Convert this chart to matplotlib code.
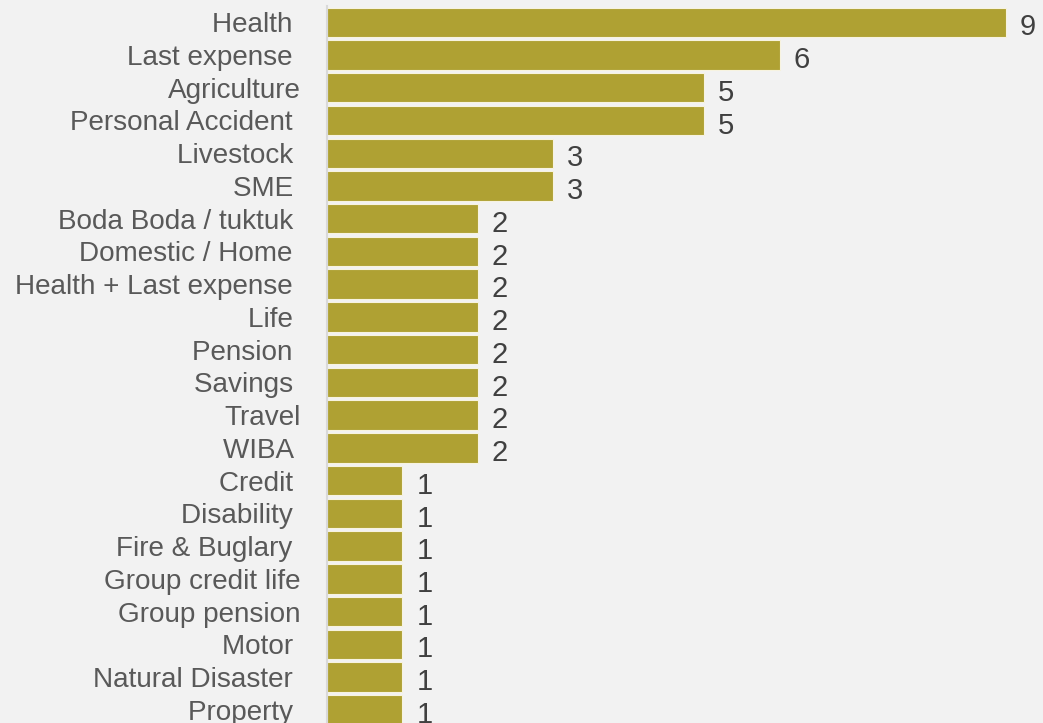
"""
Horizontal bar chart of product counts by insurance class.
"""

import matplotlib.pyplot as plt
import numpy as np

plt.rcParams['font.family'] = ['Liberation Sans', 'DejaVu Sans']

# Product classes (top to bottom) and number of products in each
products = [
    'Health ', 'Last expense ', 'Agriculture', 'Personal Accident ',
    'Livestock ', 'SME ', 'Boda Boda / tuktuk ', 'Domestic / Home ',
    'Health + Last expense ', 'Life ', 'Pension ', 'Savings ', 'Travel',
    'WIBA ', 'Credit ', 'Disability ', 'Fire & Buglary ', 'Group credit life',
    'Group pension', 'Motor ', 'Natural Disaster ', 'Property ',
]
counts = [9, 6, 5, 5, 3, 3, 2, 2, 2, 2, 2, 2, 2, 2, 1, 1, 1, 1, 1, 1, 1, 1]

bg = '#F2F2F2'
bar_color = '#AFA133'

fig = plt.figure(figsize=(10.43, 7.23), dpi=100, facecolor=bg)
ax = fig.add_axes([327 / 1043, 0, 1 - 327 / 1043, 1], facecolor=bg)

y = np.arange(len(products))
ax.barh(y, counts, height=0.9, color=bar_color,
        edgecolor='#F7F3E0', linewidth=0.8)

# Value labels just past the end of each bar
for yi, val in zip(y, counts):
    ax.annotate(str(val), xy=(val, yi), xytext=(10, -1.5),
                textcoords='offset points', va='center_baseline', ha='left',
                fontsize=21, color='#404040')

ax.set_xlim(0, 716 / 75.44)
ax.set_ylim(21.4, -0.68)

ax.set_yticks(y)
ax.set_yticklabels(products, fontsize=20.1, color='#595959')
ax.tick_params(axis='y', length=0, pad=19)
ax.set_xticks([])

for side in ['top', 'right', 'bottom']:
    ax.spines[side].set_visible(False)
ax.spines['left'].set_color('#D9D9D9')
ax.spines['left'].set_linewidth(1.5)
ax.spines['left'].set_bounds(-0.5, 21.4)

plt.savefig('out.png', dpi=100, facecolor=bg)
